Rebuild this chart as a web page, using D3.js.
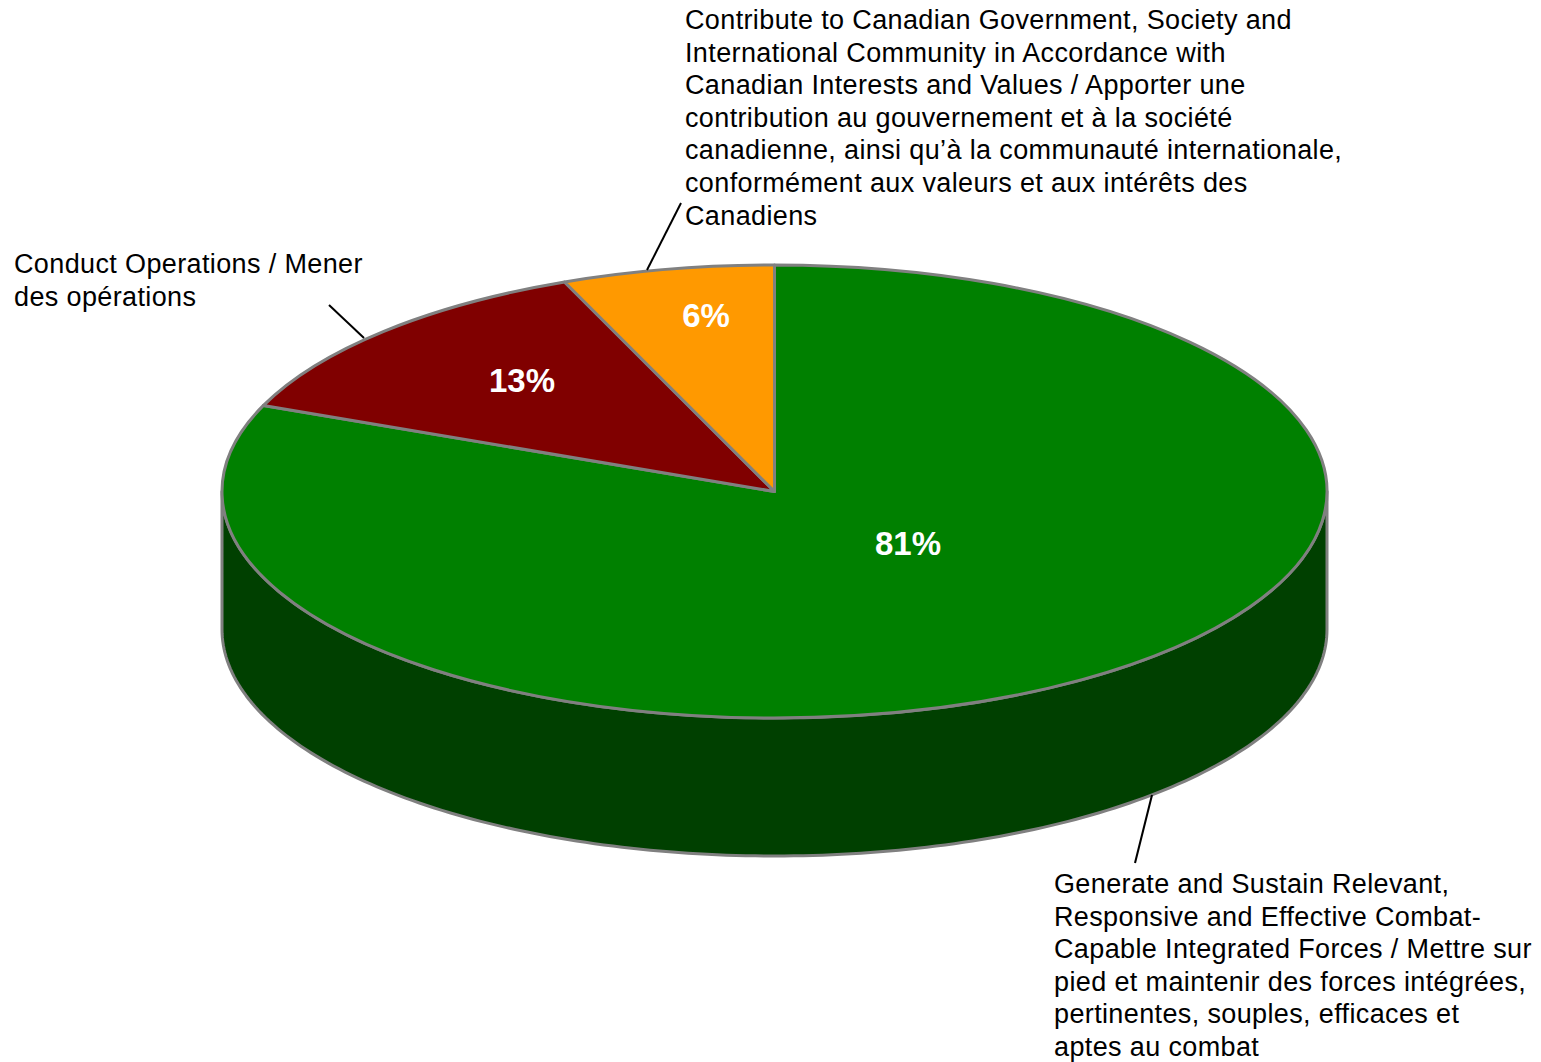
<!DOCTYPE html>
<html>
<head>
<meta charset="utf-8">
<script src="https://d3js.org/d3.v7.min.js"></script>
<style>
  html, body { margin: 0; background: #fff; }
  svg { display: block; }
  text { font-family: "Liberation Sans", Arial, sans-serif; }
</style>
</head>
<body>
<svg id="chart" width="1541" height="1062"></svg>
<script>
// slices, clockwise from 12 o'clock
const categories = ["Generate", "Operations", "Contribute"];
const values = [81.2, 12.6, 6.2];
const colors = ["#008000", "#800000", "#ff9900"];
const sideColor = "#004000";

const captions = [
  [
    "Generate and Sustain Relevant,",
    "Responsive and Effective Combat-",
    "Capable Integrated Forces / Mettre sur",
    "pied et maintenir des forces intégrées,",
    "pertinentes, souples, efficaces et",
    "aptes au combat",
  ],
  ["Conduct Operations / Mener", "des opérations"],
  [
    "Contribute to Canadian Government, Society and",
    "International Community in Accordance with",
    "Canadian Interests and Values / Apporter une",
    "contribution au gouvernement et à la société",
    "canadienne, ainsi qu’à la communauté internationale,",
    "conformément aux valeurs et aux intérêts des",
    "Canadiens",
  ],
];

// layout
const CX = 774.5;
const CY = 491.5;
const RX = 552.5;
const RY = 226.5;
const DEPTH = 138;
const LINE_HEIGHT = 32.6;
const STROKE = "#808080";
const captionPos = [
  { x: 1054, y: 893 },
  { x: 14, y: 273 },
  { x: 685, y: 29 },
];
const percentPos = [
  { x: 908, y: 555 },
  { x: 522, y: 392 },
  { x: 706, y: 327 },
];
const leaders = [
  [[1152, 795], [1135, 863]],
  [[364, 338], [329, 305]],
  [[647, 270], [681, 203]],
];

const svg = d3.select("#chart");

const pie = d3.pie().sort(null)(values);
const arc = d3.arc().innerRadius(0).outerRadius(1);

// the visible wall: front half of the rim, from 3 o'clock to 9 o'clock
const wallAngles = d3.range(0, 181).map((d) => Math.PI / 2 + (d * Math.PI) / 180);
const wall = d3
  .area()
  .x((a) => CX + RX * Math.sin(a))
  .y0((a) => CY - RY * Math.cos(a))
  .y1((a) => CY + DEPTH - RY * Math.cos(a));

svg
  .append("path")
  .attr("d", wall(wallAngles))
  .attr("fill", sideColor)
  .attr("stroke", STROKE)
  .attr("stroke-width", 3)
  .attr("stroke-linejoin", "round");

// top face: unit circle squashed to an ellipse
svg
  .append("g")
  .attr("transform", `translate(${CX},${CY}) scale(${RX},${RY})`)
  .selectAll("path")
  .data(pie)
  .join("path")
  .attr("d", arc)
  .attr("fill", (d, i) => colors[i])
  .attr("stroke", STROKE)
  .attr("stroke-width", 3)
  .attr("stroke-linejoin", "round")
  .attr("vector-effect", "non-scaling-stroke");

svg
  .append("g")
  .selectAll("line")
  .data(leaders)
  .join("line")
  .attr("x1", (d) => d[0][0])
  .attr("y1", (d) => d[0][1])
  .attr("x2", (d) => d[1][0])
  .attr("y2", (d) => d[1][1])
  .attr("stroke", "#000")
  .attr("stroke-width", 2);

svg
  .append("g")
  .selectAll("text")
  .data(values)
  .join("text")
  .attr("x", (d, i) => percentPos[i].x)
  .attr("y", (d, i) => percentPos[i].y)
  .attr("text-anchor", "middle")
  .attr("fill", "#fff")
  .attr("font-size", 33)
  .attr("font-weight", "bold")
  .text((d) => d3.format(".0%")(d / 100));

captions.forEach((lines, i) => {
  svg
    .append("g")
    .selectAll("text")
    .data(lines)
    .join("text")
    .attr("x", captionPos[i].x)
    .attr("y", (d, j) => captionPos[i].y + j * LINE_HEIGHT)
    .attr("fill", "#000")
    .attr("font-size", 27)
    .attr("letter-spacing", 0.37)
    .text((d) => d);
});
</script>
</body>
</html>
